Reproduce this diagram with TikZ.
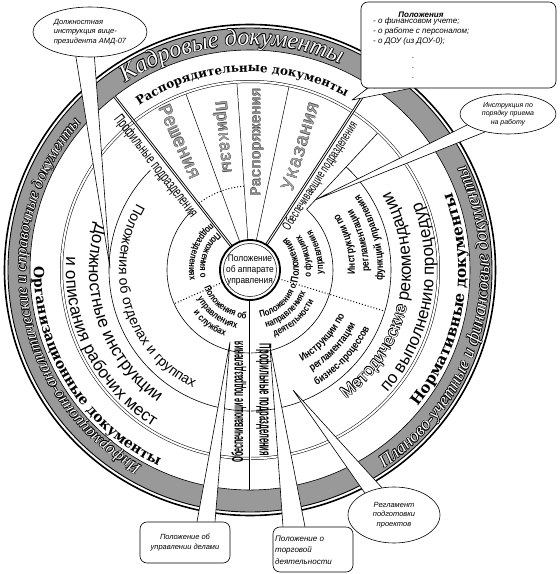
\documentclass[tikz,border=0pt]{standalone}
\usepackage{fontspec}
\setmainfont{Liberation Sans}
\newfontfamily\monof{Liberation Mono}
\newfontfamily\catf{DejaVu Serif}
\newfontfamily\bandf{Liberation Serif}
\newfontfamily\narf{Liberation Sans}[FakeStretch=0.62]
\newfontfamily\nartf{Liberation Sans}[FakeStretch=0.45]
\newfontfamily\condf{Liberation Sans}[FakeStretch=0.82]
\newfontfamily\coref{Liberation Sans}[FakeStretch=0.88]
\usetikzlibrary{decorations.text,shapes.geometric,calc}
\pgfdeclarelayer{bg}
\pgfdeclarelayer{mid}
\pgfsetlayers{bg,mid,main}
% #1 radius, #2 start angle, #3 end angle, #4 font, #5 text, #6 colour, #7 shift
\newcommand\arcT[7]{\path[shift={#7},decorate,decoration={text along path,text align=center,text color=#6,text={|#4|#5}}] (#2:#1) arc[start angle=#2,end angle=#3,radius=#1];}
% counter-clockwise (tops inward) and clockwise (tops outward), centred on angle #2
\newcommand\ccwT[4]{\arcT{#1}{#2-85}{#2+85}{#3}{#4}{black}{(0,0)}}
\newcommand\cwT[4]{\arcT{#1}{#2+85}{#2-85}{#3}{#4}{black}{(0,0)}}
% outlined (white letters with a black edge)
\newcommand\outArc[5]{%
  \foreach \dx/\dy in {0.65/0,-0.65/0,0/0.65,0/-0.65,0.46/0.46,-0.46/0.46,0.46/-0.46,-0.46/-0.46}{%
    \arcT{#1}{#2}{#3}{#4}{#5}{black}{(\dx,\dy)}}%
  \arcT{#1}{#2}{#3}{#4}{#5}{white}{(0,0)}}
% outlined grey node text
\newcommand\outNode[5]{% #1 name, #2 position, #3 rotation, #4 size, #5 text
  \foreach \dx/\dy in {0.3/0,-0.3/0,0/0.3,0/-0.3}{%
    \node[fantxt=#4,text=black!70,rotate=#3] (#1x) at ($#2+(\dx,\dy)$) {#5};}%
  \node[fantxt=#4,text=black!35,rotate=#3] (#1) at #2 {#5};}
\tikzset{
  bubble/.style={ellipse,draw,fill=white,inner sep=0,line width=.6,align=center,font=\itshape\fontsize{7.5}{9.5}\selectfont},
  rbox/.style={rectangle,rounded corners=7,draw,fill=white,inner sep=0,line width=.6},
  calltxt/.style={inner sep=0,font=\itshape\fontsize{7.5}{10}\selectfont},
  tail/.style={fill=white,draw,line width=.6,line join=round},
  fantxt/.style={inner sep=0,font=\monof\fontsize{#1}{#1}\selectfont},
  deptxt/.style={inner sep=0},
}
\def\inner{\condf\bfseries\fontsize{9.5}{9.5}\selectfont}
\def\instr{\condf\bfseries\fontsize{10.5}{10.5}\selectfont}
\def\big{\fontsize{17}{17}\selectfont}
\begin{document}
\begin{tikzpicture}[x=1pt,y=1pt]
\useasboundingbox (-250,-304) rectangle (310,270);
\begin{pgfonlayer}{bg}
% grey outer band
\fill[black!40,even odd rule] (0,0) circle[radius=242] (0,0) circle[radius=220];
\draw[line width=.6] (0,0) circle[radius=220];
\draw[line width=.9] (0,0) circle[radius=242];
\draw[line width=1.6] (0,0) circle[radius=245.5];
% ring boundaries
\draw[line width=.5,double,double distance=2pt] (0,0) circle[radius=188.5];
\draw[line width=.6] (135:83) arc[start angle=135,end angle=407,radius=83];
\draw[line width=.6] (135:141) arc[start angle=135,end angle=407,radius=141];
\draw[line width=.6] (47:83) -- (47:187);
\draw[dotted,line width=1] (94:84) arc[start angle=94,end angle=128,radius=84];
\draw[dotted,line width=1] (204:30) -- (204:83);
\draw[dotted,line width=1] (-17:30) -- (-17:141);
\foreach \a in {110,94,78} \draw[line width=.5] (\a:30) -- (\a:187);
\foreach \a in {128,57,270} \draw[line width=.9,double,double distance=.9pt] (\a:30) -- (\a:220);
% centre
\node[circle,draw,line width=1.8,minimum size=60,inner sep=0,fill=white,align=center,
      font=\coref\fontsize{9.5}{11}\selectfont] (core) at (0,0) {Положение\\об аппарате\\управления};
\draw[line width=.5] (core.center) circle[radius=26.5];
% top sector
\outNode{resh}{(-70,128)}{-66}{19}{Решения}
\outNode{prik}{(-27,133)}{-84}{17}{Приказы}
\outNode{rasp}{(7,128)}{90}{15}{Распоряжения}
\outNode{ukaz}{(50,124)}{73}{19}{Указания}
\cwT{198}{92.5}{\catf\bfseries\fontsize{12}{12}\selectfont}{Распорядительные документы}
\outArc{225}{180}{10}{\bandf\itshape\fontsize{24}{24}\selectfont}{Кадровые документы}
% department labels on the thick lines
\node[deptxt,rotate=-52,font=\narf\fontsize{15}{15}\selectfont] (prof1) at (-94.5,103.8) {Профильные подразделения};
\node[deptxt,rotate=57,font=\narf\fontsize{13}{13}\selectfont] (obes1) at (70.4,93.7) {Обеспечивающие подразделения};
\node[deptxt,rotate=90,font=\nartf\bfseries\fontsize{16}{16}\selectfont] (obes2) at (-11,-132) {Обеспечивающие подразделения};
\node[deptxt,rotate=-90,font=\nartf\bfseries\fontsize{17}{17}\selectfont] (prof2) at (14,-130) {Профильные подразделения};
% left sector
\ccwT{216}{212}{\catf\bfseries\fontsize{14}{14}\selectfont}{Организационные документы}
\ccwT{161}{199}{\big}{Должностные инструкции}
\ccwT{184}{207}{\big}{и описания рабочих мест}
\ccwT{131}{197}{\fontsize{14}{14}\selectfont}{Положения об отделах и группах}
\ccwT{50}{160}{\inner}{Положения о}
\ccwT{61}{160}{\inner}{подразделениях}
\ccwT{49}{233}{\inner}{Положения об}
\ccwT{60}{233}{\inner}{управлениях}
\ccwT{71}{233}{\inner}{и службах}
\outArc{224}{285}{95}{\bandf\itshape\fontsize{16}{16}\selectfont}{Информационно-аналитические и справочные документы}
% right sector
\ccwT{49}{-48}{\inner}{Положения о}
\ccwT{60}{-48}{\inner}{направлениях}
\ccwT{71}{-48}{\inner}{деятельности}
\ccwT{49}{13}{\condf\bfseries\fontsize{10.5}{10.5}\selectfont}{Положения}
\ccwT{61}{14}{\inner}{о функциях}
\ccwT{73}{15}{\inner}{управления}
\ccwT{105}{15}{\instr}{Инструкции по}
\ccwT{119}{15}{\instr}{регламентации}
\ccwT{133}{15}{\instr}{функций управления}
\ccwT{105}{-43}{\instr}{Инструкции по}
\ccwT{119}{-43}{\instr}{регламентации}
\ccwT{133}{-43}{\instr}{бизнес-процессов}
% "Методические" outlined, "рекомендации" plain
\foreach \dx/\dy in {0.55/0,-0.55/0,0/0.55,0/-0.55,0.4/0.4,-0.4/0.4,0.4/-0.4,-0.4/-0.4}{%
  \arcT{161}{-97}{73}{\big}{Методические |\big\color{white}|рекомендации}{black}{(\dx,\dy)}}
\arcT{161}{-97}{73}{\big}{Методические |\big\color{black}|рекомендации}{white}{(0,0)}
\ccwT{184}{-10}{\big}{по выполнению процедур}
\ccwT{216}{-9}{\catf\bfseries\fontsize{15}{15}\selectfont}{Нормативные документы}
\outArc{239}{-100}{70}{\bandf\itshape\fontsize{18}{18}\selectfont}{Планово-учетные и финансовые документы}
\end{pgfonlayer}
% callouts
\node[bubble,minimum width=114,minimum height=50,align=left] (c1) at (-160,238) {Должностная\\инструкция вице-\\президента АМД-07};
\node[rbox,minimum width=195,minimum height=86] (c2) at (208.5,225) {};
\node[calltxt,font=\bfseries\itshape\fontsize{8}{10}\selectfont] (c2t) at (171,255) {Положения};
\node[calltxt,anchor=north west,align=left,font=\itshape\fontsize{8}{10}\selectfont] (c2l) at (123,252) {- о финансовом учете;\\- о работе с персоналом;\\- о ДОУ (из ДОУ-0);};
\node[calltxt,align=center,font=\fontsize{8}{10}\selectfont] (c2d) at (163,202) {.\\.\\.};
\node[bubble,minimum width=96,minimum height=40,font=\itshape\fontsize{7}{8.5}\selectfont] (c3) at (258,156) {Инструкция по\\порядку приема\\на работу};
\node[rbox,minimum width=90,minimum height=41,align=center,font=\itshape\fontsize{7.5}{10}\selectfont] (c4) at (-65,-272.5) {Положение об\\управлении делами};
\node[rbox,minimum width=80,minimum height=45] (c5) at (63,-279.5) {};
\node[calltxt,anchor=west,align=left,font=\itshape\fontsize{8}{11.5}\selectfont] (c5t) at (25,-280) {Положение о\\торговой\\деятельности};
\node[bubble,minimum width=92,minimum height=56] (c6) at (144,-245) {Регламент\\подготовки\\проектов};
\coordinate (t1) at (-140,2);
\coordinate (t2) at (102,170);
\coordinate (t3) at (65,70);
\coordinate (t4) at (-20,-72);
\coordinate (t5) at (20,-77);
\coordinate (t6) at (43,-120);
\begin{pgfonlayer}{mid}
\filldraw[tail] (c1.240) -- (t1) -- (c1.280);
\filldraw[tail] ([xshift=7]c2.south west) -- (t2) -- ([xshift=50]c2.south west);
\filldraw[tail] (c3.195) -- (t3) -- (c3.218);
\filldraw[tail] ([xshift=12]c4.north) -- (t4) -- ([xshift=30]c4.north);
\filldraw[tail] ([xshift=-30]c5.north) -- (t5) -- ([xshift=-8]c5.north);
\filldraw[tail] (c6.143) -- (t6) -- (c6.114);
\end{pgfonlayer}
\end{tikzpicture}
\end{document}
